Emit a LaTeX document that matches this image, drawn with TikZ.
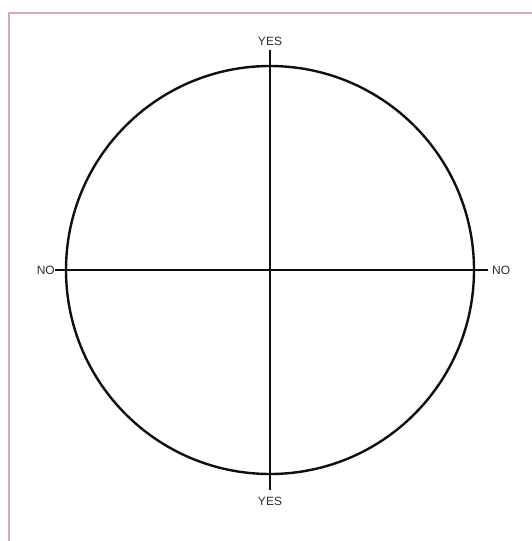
\documentclass[tikz,border=0pt]{standalone}
\usepackage{fontspec}
\setmainfont{Liberation Sans}
\definecolor{frame}{RGB}{222,170,172}
\definecolor{ink}{RGB}{15,15,15}
\definecolor{lbl}{RGB}{45,45,45}
\tikzset{
  axis/.style={draw=ink, line width=2.5pt},
  lab/.style={font=\fontsize{12}{13}\selectfont, text=lbl, inner sep=0pt},
}
\begin{document}
\begin{tikzpicture}[x=1pt,y=-1pt]
\useasboundingbox (0,0) rectangle (532,541);
\fill[white] (0,0) rectangle (532,541);
\draw[frame, line width=2pt] (8.5,545) -- (8.5,12.5) -- (540,12.5);
\coordinate (c) at (270,270);
\node[draw=ink, line width=2.4pt, circle, minimum size=408pt, inner sep=0pt] (circ) at (c) {};
\coordinate (top) at (270,50);
\coordinate (bot) at (270,490);
\coordinate (left) at (55,270);
\coordinate (right) at (488,270);
\draw[axis] (top) -- (bot);
\draw[axis] (left) -- (right);
\node[lab, anchor=south] (ytop) at (270,46) {YES};
\node[lab, anchor=north] (ybot) at (270,497) {YES};
\node[lab, anchor=east] (nleft) at (left) {NO};
\node[lab, anchor=west] (nright) at ([xshift=4pt]right) {NO};
\end{tikzpicture}
\end{document}
